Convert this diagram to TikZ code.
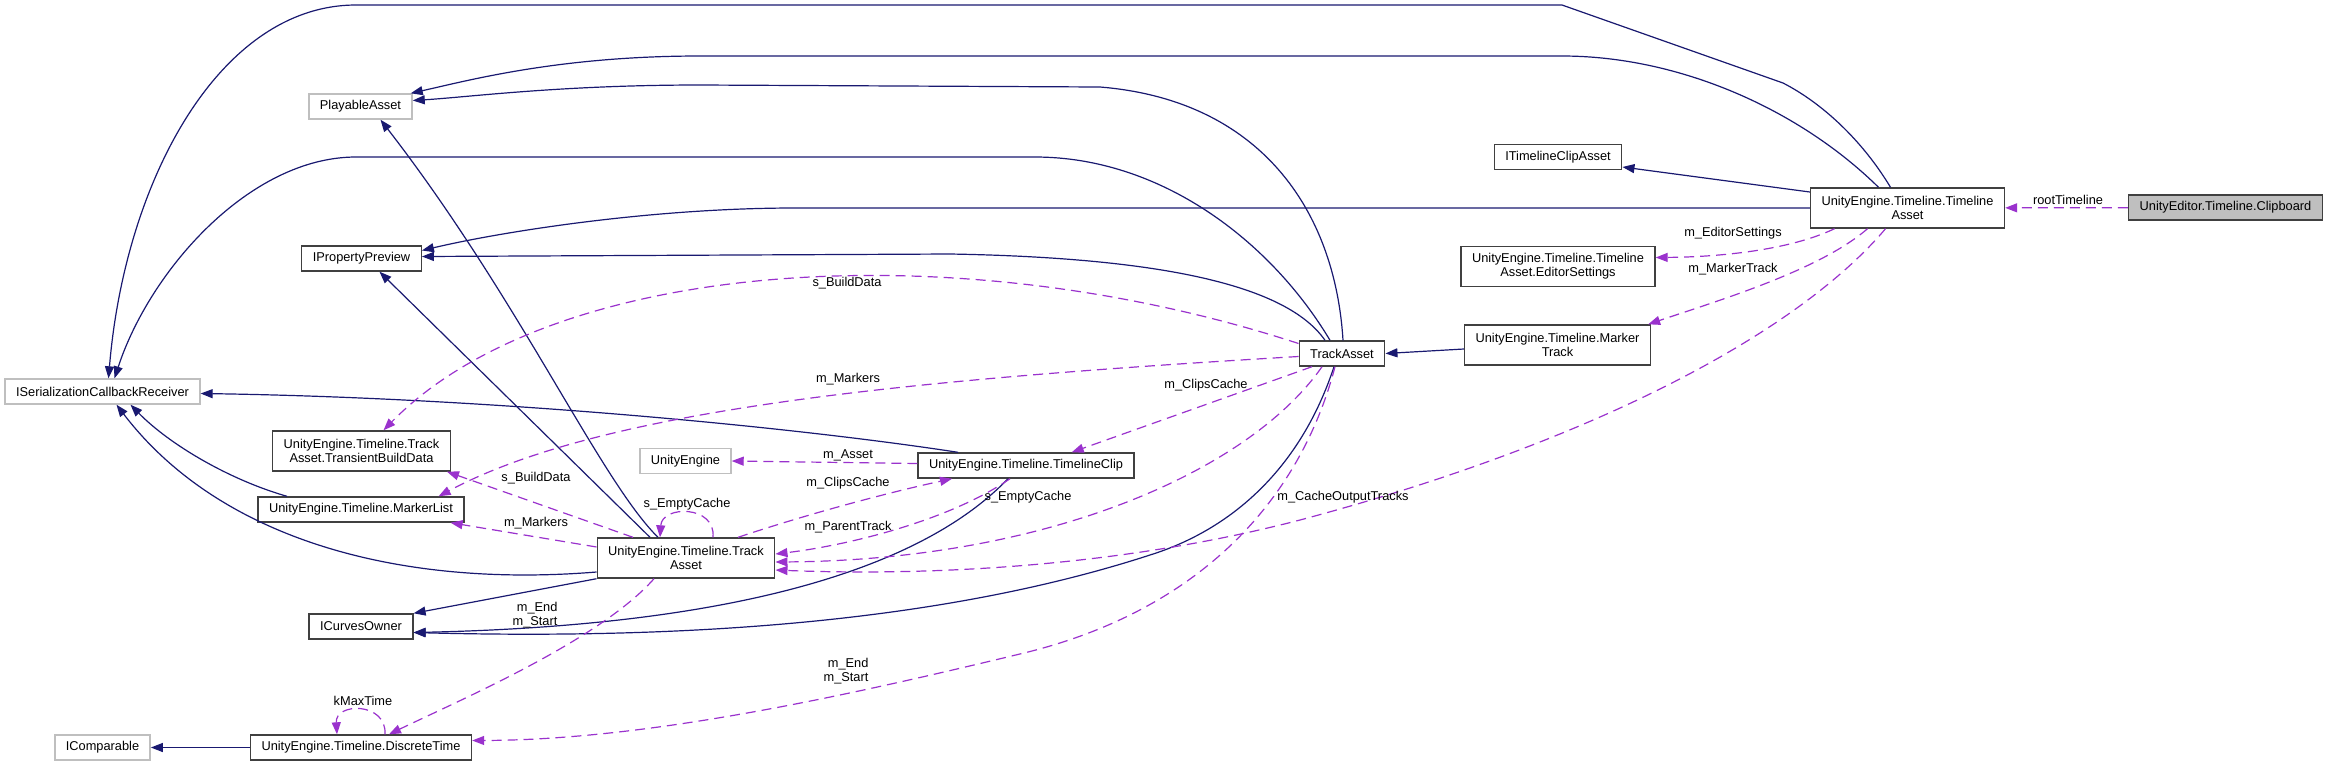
\documentclass[tikz,border=0pt]{standalone}
\usepackage{fontspec}
\setmainfont{Liberation Sans}
\usetikzlibrary{arrows.meta,calc}
\definecolor{edgeblue}{RGB}{25,25,112}
\definecolor{edgeorchid}{RGB}{154,50,205}
\definecolor{extgray}{RGB}{191,191,191}
\definecolor{boxgray}{RGB}{64,64,64}

\begin{document}
\begin{tikzpicture}[
    x=0.5pt, y=-0.5pt,
    font=\fontsize{6.4pt}{7pt}\selectfont,
    cls/.style={draw=boxgray, fill=white, line width=0.7pt, align=center,
                inner xsep=5.5pt, inner ysep=1pt, minimum height=12.5pt},
    extbox/.style={cls, draw=extgray},
    focus/.style={cls, fill=extgray},
    tall/.style={minimum height=20pt},
    inh/.style={-{Triangle[length=6pt,width=4.5pt]}, line width=0.6pt, edgeblue},
    usage/.style={-{Triangle[length=6pt,width=4.5pt]}, line width=0.6pt, edgeorchid,
                  dash pattern=on 5pt off 3pt},
    lbl/.style={inner sep=0.5pt, align=center}
  ]
  \useasboundingbox (0,0) rectangle (2329,767);

  \node[focus] (clp) at (2225.5,207.5) {UnityEditor.Timeline.Clipboard};
  \node[cls, tall] (tla) at (1907.5,208) {UnityEngine.Timeline.Timeline\\Asset};
  \node[cls] (itca) at (1558,157) {ITimelineClipAsset};
  \node[cls, tall] (eds) at (1558,266.5) {UnityEngine.Timeline.Timeline\\Asset.EditorSettings};
  \node[cls, tall] (mtr) at (1557.5,345) {UnityEngine.Timeline.Marker\\Track};
  \node[cls] (trk) at (1342,353.5) {TrackAsset};
  \node[cls] (tcl) at (1026,465.5) {UnityEngine.Timeline.TimelineClip};
  \node[extbox] (uni) at (685.5,461) {UnityEngine};
  \node[cls, tall] (tr2) at (686,558) {UnityEngine.Timeline.Track\\Asset};
  \node[extbox] (pla) at (360.5,106.5) {PlayableAsset};
  \node[cls] (ipp) at (361.5,258.5) {IPropertyPreview};
  \node[extbox] (ser) at (102.5,391.5) {ISerializationCallbackReceiver};
  \node[cls, tall] (tbd) at (361.5,451) {UnityEngine.Timeline.Track\\Asset.TransientBuildData};
  \node[cls] (mkl) at (361,509.5) {UnityEngine.Timeline.MarkerList};
  \node[cls] (ico) at (361,626.5) {ICurvesOwner};
  \node[extbox] (icm) at (102.5,747.5) {IComparable};
  \node[cls] (dst) at (361,747.5) {UnityEngine.Timeline.DiscreteTime};

  % inheritance
  \draw[inh] ($(tla.north)+(-17,0)$) .. controls (1862,140) and (1822,103) .. (1783,83)
    -- (1562,5) -- (356,5) .. controls (220,5) and (125,180) .. ($(ser.north)+(6,0)$);
  \draw[inh] ($(tla.north)+(-29,0)$) .. controls (1800,110) and (1680,56) .. (1562,56)
    -- (700,56) .. controls (560,56) and (470,80) .. ($(pla.north east)+(-2,0)$);
  \draw[inh] (tla.west) -- (795,208) .. controls (650,208) and (500,232) .. ($(ipp.east)+(0,-8)$);
  \draw[inh] ($(tla.west)+(0,-16)$) -- ($(itca.east)+(0,10)$);
  \draw[inh] ($(trk.north)+(1,0)$) .. controls (1335,210) and (1260,100) .. (1100,87)
    -- (700,85) .. controls (560,85) and (470,97) .. ($(pla.east)+(0,-6)$);
  \draw[inh] ($(trk.north)+(-12,0)$) .. controls (1270,240) and (1160,157) .. (1035,157)
    -- (356,157) .. controls (250,157) and (150,270) .. ($(ser.north)+(12,0)$);
  \draw[inh] ($(trk.north)+(-17,0)$) .. controls (1290,290) and (1180,258) .. (950,254)
    -- ($(ipp.east)+(0,-2)$);
  \draw[inh] ($(trk.south)+(-8,0)$) .. controls (1300,470) and (1230,530) .. (1150,555)
    .. controls (950,620) and (700,640) .. ($(ico.east)+(0,6)$);
  \draw[inh] ($(tcl.south)+(-18,0)$) .. controls (930,560) and (760,625) .. ($(ico.east)+(0,6)$);
  \draw[inh] ($(tcl.north)+(-68,0)$) .. controls (800,428) and (500,398) .. ($(ser.east)+(0,2)$);
  \draw[inh] ($(mkl.north)+(-74,0)$) .. controls (230,480) and (170,445) .. ($(ser.south)+(28,0)$);
  \draw[inh] ($(tr2.west)+(0,14)$) .. controls (400,588) and (220,540) .. ($(ser.south)+(14,0)$);
  \draw[inh] (tr2.south west) -- (ico.north east);
  \draw[inh] ($(tr2.north)+(-28,0)$) .. controls (600,480) and (520,300) .. ($(pla.south)+(20,0)$);
  \draw[inh] ($(tr2.north)+(-36,0)$) -- ($(ipp.south)+(18,0)$);
  \draw[inh] ($(mtr.west)+(0,4)$) -- (trk.east);
  \draw[inh] (dst) -- (icm);

  % usage
  \draw[usage] (clp) -- (tla);
  \draw[usage] ($(tla.south)+(-73,0)$) .. controls (1790,250) and (1720,257) .. ($(eds.east)+(0,-9)$);
  \draw[usage] ($(tla.south)+(-40,0)$) .. controls (1820,270) and (1720,300) .. ($(mtr.north east)+(-3,0)$);
  \draw[usage] ($(tla.south)+(-22,0)$) .. controls (1800,330) and (1600,440) .. (1300,520)
    .. controls (1100,572) and (900,575) .. ($(tr2.east)+(0,12)$);
  \draw[usage] ($(trk.west)+(0,-10)$) .. controls (950,230) and (550,260) .. ($(tbd.north)+(22,0)$);
  \draw[usage] ($(trk.west)+(0,3)$) .. controls (900,380) and (600,410) .. ($(mkl.north east)+(-26,0)$);
  \draw[usage] ($(trk.south)+(-30,0)$) -- ($(tcl.north east)+(-63,0)$);
  \draw[usage] ($(trk.south)+(-20,0)$) .. controls (1250,470) and (1050,560) .. ($(tr2.east)+(0,4)$);
  \draw[usage] ($(trk.south)+(-7,0)$) .. controls (1300,500) and (1200,610) .. (1024,653)
    .. controls (850,695) and (650,740) .. ($(dst.east)+(0,-7)$);
  \draw[usage] ($(tr2.north)+(27,0)$) .. controls (716,505) and (662,505) .. ($(tr2.north)+(-26,0)$);
  \draw[usage] ($(tr2.north)+(-53,0)$) -- ($(tbd.south east)+(-4,0)$);
  \draw[usage] ($(tr2.west)+(0,-11)$) -- ($(mkl.south east)+(-14,0)$);
  \draw[usage] ($(tr2.south)+(-32,0)$) .. controls (600,640) and (460,700) .. ($(dst.north)+(28,0)$);
  \draw[usage] ($(dst.north)+(24,0)$) .. controls (387,702) and (335,702) .. ($(dst.north)+(-24,0)$);
  \draw[usage] ($(tcl.west)+(0,-2)$) -- (uni.east);
  \draw[usage] ($(tr2.north)+(52,0)$) .. controls (820,510) and (900,490) .. ($(tcl.south)+(-74,0)$);
  \draw[usage] ($(tcl.south)+(-16,0)$) .. controls (950,520) and (850,545) .. ($(tr2.east)+(0,-4)$);

  \node[lbl] (lroot) at (2068,200) {rootTimeline};
  \node[lbl] (ledit) at (1733,233) {m\_EditorSettings};
  \node[lbl] (lmtrk) at (1733,269) {m\_MarkerTrack};
  \node[lbl] (lcache) at (1343,497) {m\_CacheOutputTracks};
  \node[lbl] (lbuild) at (847,283) {s\_BuildData};
  \node[lbl] (lmark) at (848,379) {m\_Markers};
  \node[lbl] (lclips) at (1206,385) {m\_ClipsCache};
  \node[lbl] (lempty) at (1028,497) {s\_EmptyCache};
  \node[lbl, align=right] (lrange) at (846,671) {m\_End\\m\_Start};
  \node[lbl] (lself) at (687,504) {s\_EmptyCache};
  \node[lbl] (lbuild2) at (536,478) {s\_BuildData};
  \node[lbl] (lmark2) at (536,523) {m\_Markers};
  \node[lbl, align=right] (lrange2) at (535,615) {m\_End\\m\_Start};
  \node[lbl] (lmax) at (363,701) {kMaxTime};
  \node[lbl] (lasset) at (848,455) {m\_Asset};
  \node[lbl] (lclips2) at (848,483) {m\_ClipsCache};
  \node[lbl] (lparent) at (848,527) {m\_ParentTrack};
\end{tikzpicture}
\end{document}
